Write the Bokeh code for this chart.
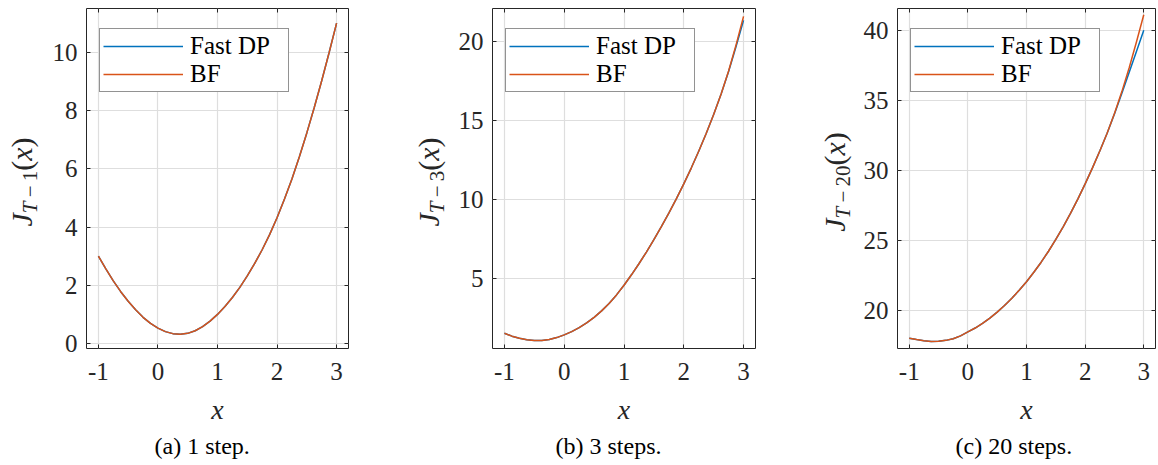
from bokeh.plotting import figure
from bokeh.models import (Range1d, FixedTicker, LinearAxis, Legend,
                          LegendItem, Title, ColumnDataSource, Div)
from bokeh.layouts import row
from bokeh.embed import file_html
from bokeh.resources import INLINE

# ---------------- data ----------------
x_vals = [-1.0, -0.875, -0.75, -0.625, -0.5, -0.375, -0.25, -0.125, 0.0,
          0.125, 0.25, 0.375, 0.5, 0.625, 0.75, 0.875, 1.0,
          1.125, 1.25, 1.375, 1.5, 1.625, 1.75, 1.875, 2.0,
          2.125, 2.25, 2.375, 2.5, 2.625, 2.75, 2.875, 3.0]

a_fast_dp = [3.0, 2.56, 2.15, 1.78, 1.45, 1.16, 0.9, 0.69, 0.53,
             0.41, 0.34, 0.32, 0.35, 0.44, 0.58, 0.77, 1.0,
             1.27, 1.58, 1.93, 2.32, 2.75, 3.22, 3.74, 4.32,
             4.96, 5.65, 6.41, 7.23, 8.1, 9.02, 9.99, 11.0]
a_bf = [3.0, 2.56, 2.15, 1.78, 1.45, 1.16, 0.9, 0.69, 0.53,
        0.41, 0.34, 0.32, 0.35, 0.44, 0.58, 0.77, 1.0,
        1.27, 1.58, 1.93, 2.32, 2.75, 3.22, 3.74, 4.32,
        4.96, 5.65, 6.41, 7.23, 8.1, 9.02, 9.99, 11.0]

b_fast_dp = [1.56, 1.38, 1.25, 1.16, 1.11, 1.11, 1.17, 1.29, 1.46,
             1.67, 1.92, 2.22, 2.57, 2.98, 3.45, 3.99, 4.6,
             5.26, 5.96, 6.7, 7.48, 8.3, 9.16, 10.06, 11.01,
             12.01, 13.07, 14.2, 15.4, 16.7, 18.12, 19.7, 21.35]
b_bf = [1.56, 1.38, 1.25, 1.16, 1.11, 1.11, 1.17, 1.29, 1.46,
        1.67, 1.92, 2.22, 2.57, 2.98, 3.45, 3.99, 4.6,
        5.26, 5.96, 6.7, 7.48, 8.3, 9.16, 10.06, 11.01,
        12.01, 13.07, 14.2, 15.4, 16.7, 18.15, 19.8, 21.6]

c_fast_dp = [18.05, 17.96, 17.88, 17.82, 17.83, 17.9, 18.02, 18.22, 18.5,
             18.78, 19.11, 19.49, 19.91, 20.38, 20.9, 21.47, 22.08,
             22.75, 23.47, 24.25, 25.09, 25.99, 26.95, 27.97, 29.05,
             30.19, 31.39, 32.66, 34.04, 35.49, 36.99, 38.49, 40.0]
c_bf = [18.05, 17.96, 17.88, 17.82, 17.83, 17.9, 18.02, 18.22, 18.5,
        18.78, 19.11, 19.49, 19.91, 20.38, 20.9, 21.47, 22.08,
        22.75, 23.47, 24.25, 25.09, 25.99, 26.95, 27.97, 29.05,
        30.19, 31.39, 32.66, 34.06, 35.61, 37.31, 39.16, 41.1]

x_ticks = [-1, 0, 1, 2, 3]
a_y_ticks = [0, 2, 4, 6, 8, 10]
b_y_ticks = [5, 10, 15, 20]
c_y_ticks = [20, 25, 30, 35, 40]

x_limits = (-1.2, 3.2)
a_y_limits = (-0.17, 11.5)
b_y_limits = (0.6, 22.1)
c_y_limits = (17.32, 41.55)

series_names = ["Fast DP", "BF"]
step_counts = ["1", "3", "20"]
captions = ["(a) 1 step.", "(b) 3 steps.", "(c) 20 steps."]

# ---------------- style ----------------
FONT = "Liberation Serif"
AX = "#262626"
BLUE = "#0072BD"
ORANGE = "#D95319"
GRID = "#dedede"
FRAME_H = 340
TOP = 8


def style_axis(ax, ticks, label_size="25px"):
    ax.ticker = FixedTicker(ticks=ticks)
    ax.major_tick_in = 4
    ax.major_tick_out = 0
    ax.minor_tick_line_color = None
    ax.major_tick_line_color = AX
    ax.axis_line_color = None
    ax.major_label_text_font = FONT
    ax.major_label_text_font_size = label_size
    ax.major_label_text_color = AX
    ax.major_label_overrides = {t: str(t) for t in ticks}


def blank_axis(ticks):
    ax = LinearAxis()
    style_axis(ax, ticks)
    ax.major_label_overrides = {t: "" for t in ticks}
    ax.major_label_standoff = 0
    return ax


def make_ylabel(width, center_x, k):
    """Rotated y-axis title J_{T-k}(x) as real HTML text."""
    h = TOP + FRAME_H
    inner = (
        f'<div style="position:absolute;left:{center_x}px;top:{TOP + FRAME_H / 2 + 4}px;'
        'transform:translate(-50%,-50%) rotate(-90deg);white-space:nowrap;'
        f"font-family:'{FONT}';font-size:30px;line-height:30px;color:{AX};\">"
        '<i>J</i><sub style="font-size:21px;line-height:0;vertical-align:-5px;">'
        f'<i>T</i>&#8201;&#8722;&#8201;{k}</sub>(<i>x</i>)</div>'
    )
    html = (f'<div style="position:relative;width:{width}px;height:{h}px;'
            f'overflow:visible;">{inner}</div>')
    return Div(text=html, width=width, height=h, margin=0)


def make_panel(fast, bf, ylim, yticks, caption, cap_offset,
               left_border, frame_w, right_border):
    p = figure(frame_width=frame_w, frame_height=FRAME_H,
               x_range=Range1d(*x_limits), y_range=Range1d(*ylim),
               output_backend="svg", toolbar_location=None,
               min_border_left=left_border, min_border_right=right_border,
               min_border_top=TOP, min_border_bottom=0,
               background_fill_color="white", border_fill_color="white")
    p.outline_line_color = AX
    p.outline_line_width = 1

    style_axis(p.xaxis[0], x_ticks)
    style_axis(p.yaxis[0], yticks)
    p.xaxis[0].major_label_standoff = 14
    p.yaxis[0].major_label_standoff = 9
    p.xaxis[0].axis_label = "x"
    p.xaxis[0].axis_label_text_font = FONT
    p.xaxis[0].axis_label_text_font_style = "italic"
    p.xaxis[0].axis_label_text_font_size = "28px"
    p.xaxis[0].axis_label_text_color = AX
    p.xaxis[0].axis_label_standoff = 11

    p.add_layout(blank_axis(x_ticks), "above")
    p.add_layout(blank_axis(yticks), "right")

    p.xgrid.ticker = FixedTicker(ticks=x_ticks)
    p.ygrid.ticker = FixedTicker(ticks=yticks)
    for g in (p.xgrid[0], p.ygrid[0]):
        g.grid_line_color = GRID
        g.grid_line_width = 1.2

    src = ColumnDataSource(dict(x=x_vals, fast=fast, bf=bf))
    r1 = p.line("x", "fast", source=src, line_color=BLUE, line_width=1.5)
    r2 = p.line("x", "bf", source=src, line_color=ORANGE, line_width=1.5)

    legend = Legend(items=[LegendItem(label=series_names[0], renderers=[r1]),
                           LegendItem(label=series_names[1], renderers=[r2])],
                    location=(13, 256), padding=3, spacing=0,
                    glyph_width=80, glyph_height=20, label_standoff=7,
                    label_width=95, label_height=20,
                    label_text_font=FONT, label_text_font_size="25px",
                    label_text_color="black",
                    border_line_color=AX, border_line_width=1,
                    background_fill_color="white", background_fill_alpha=1.0,
                    margin=0)
    p.add_layout(legend)

    p.add_layout(Title(text=caption, align="left", offset=cap_offset,
                       text_font=FONT, text_font_size="24px",
                       text_font_style="normal", text_color="black",
                       standoff=7), "below")
    return p


la = make_ylabel(44, 22.0, step_counts[0])
pa = make_panel(a_fast_dp, a_bf, a_y_limits, a_y_ticks, captions[0], 68,
                42, 262, 10)
lb = make_ylabel(90, 71.0, step_counts[1])
pb = make_panel(b_fast_dp, b_bf, b_y_limits, b_y_ticks, captions[1], 63,
                44, 263, 10)
lc = make_ylabel(88, 70.0, step_counts[2])
pc = make_panel(c_fast_dp, c_bf, c_y_limits, c_y_ticks, captions[2], 58,
                44, 258, 2)

layout = row(la, pa, lb, pb, lc, pc)
open("out.html", "w").write(file_html(layout, INLINE))
